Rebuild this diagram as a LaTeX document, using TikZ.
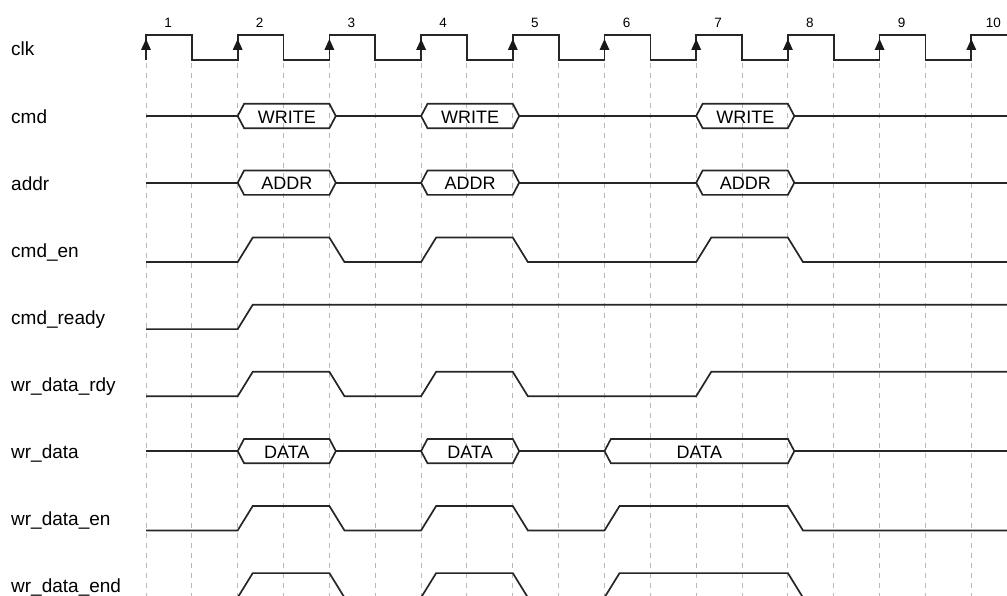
\documentclass[tikz,border=0pt]{standalone}
\usepackage{fontspec}
\setmainfont{Liberation Sans}

\tikzset{
  sig/.style={line width=1.7pt, draw=black!85},
  gridline/.style={black!28, line width=1pt, dash pattern=on 5pt off 5pt},
  lbl/.style={anchor=base west, inner sep=0pt, font=\fontsize{19}{21}\selectfont},
  bustext/.style={anchor=base, inner sep=0pt, font=\fontsize{18}{20}\selectfont},
  num/.style={anchor=base, inner sep=0pt, font=\fontsize{13.5}{15}\selectfont},
  edgearrow/.style={fill=black!90},
}

% bus value from edge #1 to edge #2, text #3, node name #4
\newcommand{\busseg}[4]{%
  \draw[sig] (#1,0) -- (#1+\Bs,\Ah) -- (#2,\Ah) -- (#2+\Bs,0) -- (#2,-\Ah) -- (#1+\Bs,-\Ah) -- cycle;
  \node[bustext] (#4) at ({(#1+#2+\Bs)/2},-7.3) {#3};
}

\begin{document}
\begin{tikzpicture}[x=1pt, y=1pt]
        \useasboundingbox (0,0) rectangle (1007,-596);
        \clip (0,0) rectangle (1007,-596);

        % drawing parameters
        \def\Tr{0.164} % rise and fall time
        \def\Bs{0.07} % bus edge slope
        \def\Ah{12.2} % half amplitude
        \def\R{10.4} % right end

        % label the signals
        \foreach \lab [count=\i from 0] in {clk,cmd,addr,cmd\_en,cmd\_ready,wr\_data\_rdy,wr\_data,wr\_data\_en,wr\_data\_end}
            \node[lbl] (lab\i) at (11,{-56-67.1*\i}) {\lab};

        % one unit = one clock period
        \begin{scope}[xshift=54.3pt, x=91.7pt]

        % dashed lines
        \foreach \x in {1,1.5,...,10} {
            \draw[gridline] (\x,-63) -- (\x,-596);
        }

        % clock
        \draw[sig] (1,-60)
            \foreach \k in {1,...,9} { -- (\k,-35) -- (\k+0.5,-35) -- (\k+0.5,-60) -- (\k+1,-60) }
            -- (10,-35) -- (\R,-35);
        \foreach \k in {1,...,10} {
            \fill[edgearrow] (\k,-39) -- ([xshift=-5pt]\k,-50) -- ([xshift=5pt]\k,-50) -- cycle;
            \node[num] (n\k) at (\k+0.24,-28) {\k};
        }

        % cmd
        \begin{scope}[yshift=-116pt]
        \draw[sig] (1,0) -- (2,0) (3+\Bs,0) -- (4,0) (5+\Bs,0) -- (7,0) (8+\Bs,0) -- (\R,0);
        \busseg{2}{3}{WRITE}{cmd1}
        \busseg{4}{5}{WRITE}{cmd2}
        \busseg{7}{8}{WRITE}{cmd3}
        \end{scope}

        % addr
        \begin{scope}[yshift=-182.7pt]
        \draw[sig] (1,0) -- (2,0) (3+\Bs,0) -- (4,0) (5+\Bs,0) -- (7,0) (8+\Bs,0) -- (\R,0);
        \busseg{2}{3}{ADDR}{addr1}
        \busseg{4}{5}{ADDR}{addr2}
        \busseg{7}{8}{ADDR}{addr3}
        \end{scope}

        % cmd_en
        \begin{scope}[yshift=-249.8pt]
        \draw[sig]
            (1,-\Ah) -- (2,-\Ah) -- (2+\Tr,\Ah) -- (3,\Ah) -- (3+\Tr,-\Ah)
            -- (4,-\Ah) -- (4+\Tr,\Ah) -- (5,\Ah) -- (5+\Tr,-\Ah)
            -- (7,-\Ah) -- (7+\Tr,\Ah) -- (8,\Ah) -- (8+\Tr,-\Ah) -- (\R,-\Ah);
        \end{scope}

        % cmd_ready
        \begin{scope}[yshift=-316.9pt]
        \draw[sig] (1,-\Ah) -- (2,-\Ah) -- (2+\Tr,\Ah) -- (\R,\Ah);
        \end{scope}

        % wr_data_rdy
        \begin{scope}[yshift=-384pt]
        \draw[sig]
            (1,-\Ah) -- (2,-\Ah) -- (2+\Tr,\Ah) -- (3,\Ah) -- (3+\Tr,-\Ah)
            -- (4,-\Ah) -- (4+\Tr,\Ah) -- (5,\Ah) -- (5+\Tr,-\Ah)
            -- (7,-\Ah) -- (7+\Tr,\Ah) -- (\R,\Ah);
        \end{scope}

        % wr_data
        \begin{scope}[yshift=-451.1pt]
        \draw[sig] (1,0) -- (2,0) (3+\Bs,0) -- (4,0) (5+\Bs,0) -- (6,0) (8+\Bs,0) -- (\R,0);
        \busseg{2}{3}{DATA}{data1}
        \busseg{4}{5}{DATA}{data2}
        \busseg{6}{8}{DATA}{data3}
        \end{scope}

        % wr_data_en and wr_data_end have the same pulses
        \foreach \y in {518.2,585.3} {
            \begin{scope}[yshift=-\y pt]
            \draw[sig]
                (1,-\Ah) -- (2,-\Ah) -- (2+\Tr,\Ah) -- (3,\Ah) -- (3+\Tr,-\Ah)
                -- (4,-\Ah) -- (4+\Tr,\Ah) -- (5,\Ah) -- (5+\Tr,-\Ah)
                -- (6,-\Ah) -- (6+\Tr,\Ah) -- (8,\Ah) -- (8+\Tr,-\Ah) -- (\R,-\Ah);
            \end{scope}
        }

        \end{scope}

    \end{tikzpicture}
\end{document}
